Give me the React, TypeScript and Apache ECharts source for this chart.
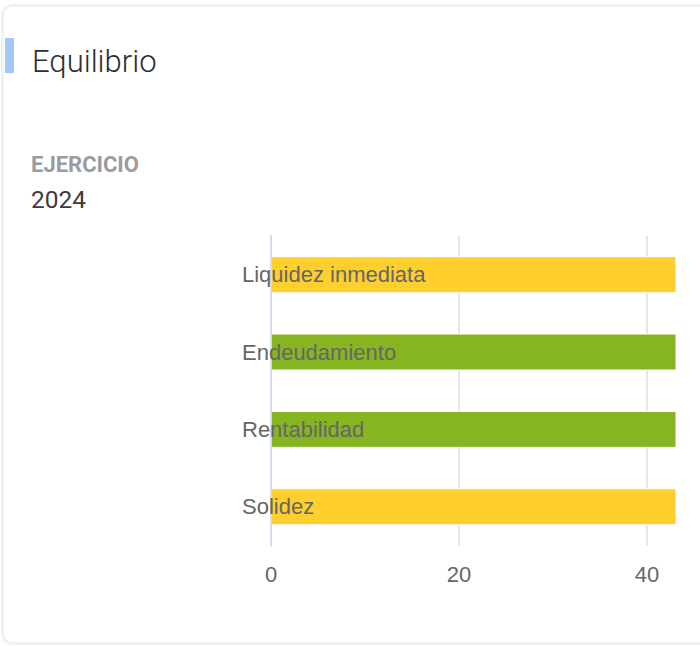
import React, { useEffect, useRef } from "react";
import * as echarts from "echarts";

const categories = ["Liquidez inmediata", "Endeudamiento", "Rentabilidad", "Solidez"];
const values = [68, 55, 52, 72];
const barColors = ["#ffcf2d", "#86b521", "#86b521", "#ffcf2d"];
const xTicks = [0, 20, 40];

const title = "Equilibrio";
const subLabel = "EJERCICIO";
const yearLabel = "2024";

export default function App() {
  const ref = useRef<HTMLDivElement>(null);
  useEffect(() => {
    if (!ref.current) return;
    const chart = echarts.init(ref.current, null, { renderer: "svg" });
    const option: any = {
      animation: false,
      backgroundColor: "#ffffff",
      graphic: [
        {
          type: "rect",
          z: 0,
          shape: { x: 2.5, y: 5.5, width: 760, height: 638, r: 10 },
          style: { fill: "none", stroke: "#eef2f8", lineWidth: 3 },
        },
        {
          type: "rect",
          z: 1,
          shape: { x: 5, y: 38, width: 9, height: 35 },
          style: { fill: "#a4c8f6" },
        },
        {
          type: "text",
          x: 32,
          y: 61,
          style: {
            text: title,
            fontFamily: "Roboto",
            fontSize: 31,
            fontWeight: 300,
            fill: "#2e2e2e",
            verticalAlign: "middle",
          },
        },
        {
          type: "text",
          x: 31,
          y: 164,
          style: {
            text: subLabel,
            fontFamily: "Roboto",
            fontSize: 22,
            fontWeight: 700,
            fill: "#9a9ca1",
            verticalAlign: "middle",
          },
        },
        {
          type: "text",
          x: 31,
          y: 199,
          style: {
            text: yearLabel,
            fontFamily: "Roboto",
            fontSize: 24.5,
            fontWeight: 400,
            fill: "#3c3c3c",
            verticalAlign: "middle",
          },
        },
      ],
      grid: { left: 271, top: 236, right: 24, bottom: 100.6, containLabel: false },
      xAxis: {
        type: "value",
        min: xTicks[0],
        max: 43.09,
        interval: xTicks[1] - xTicks[0],
        axisLine: { show: false },
        axisTick: { show: false },
        axisLabel: {
          color: "#666666",
          fontFamily: "Liberation Sans",
          fontSize: 22,
          margin: 18,
          showMaxLabel: false,
        },
        splitLine: {
          show: true,
          showMinLine: false,
          showMaxLine: false,
          lineStyle: { color: "#e6e6e6", width: 2 },
        },
      },
      yAxis: {
        type: "category",
        data: categories,
        inverse: true,
        z: 3,
        axisLine: { show: true, lineStyle: { color: "#d3dcec", width: 2 } },
        axisTick: { show: false },
        splitLine: { show: false },
        axisLabel: {
          color: "#666666",
          fontFamily: "Liberation Sans",
          fontSize: 22,
          align: "left",
          margin: 29,
        },
      },
      series: [
        {
          type: "bar",
          barWidth: 37,
          clip: true,
          data: values.map((v, i) => ({
            value: v,
            itemStyle: { color: barColors[i], borderColor: "#ffffff", borderWidth: 1 },
          })),
        },
      ],
    };
    chart.setOption(option);
    return () => chart.dispose();
  }, []);
  return (
    <div
      ref={ref}
      style={{ position: "absolute", left: 0, top: 0, width: 700, height: 646 }}
    />
  );
}
